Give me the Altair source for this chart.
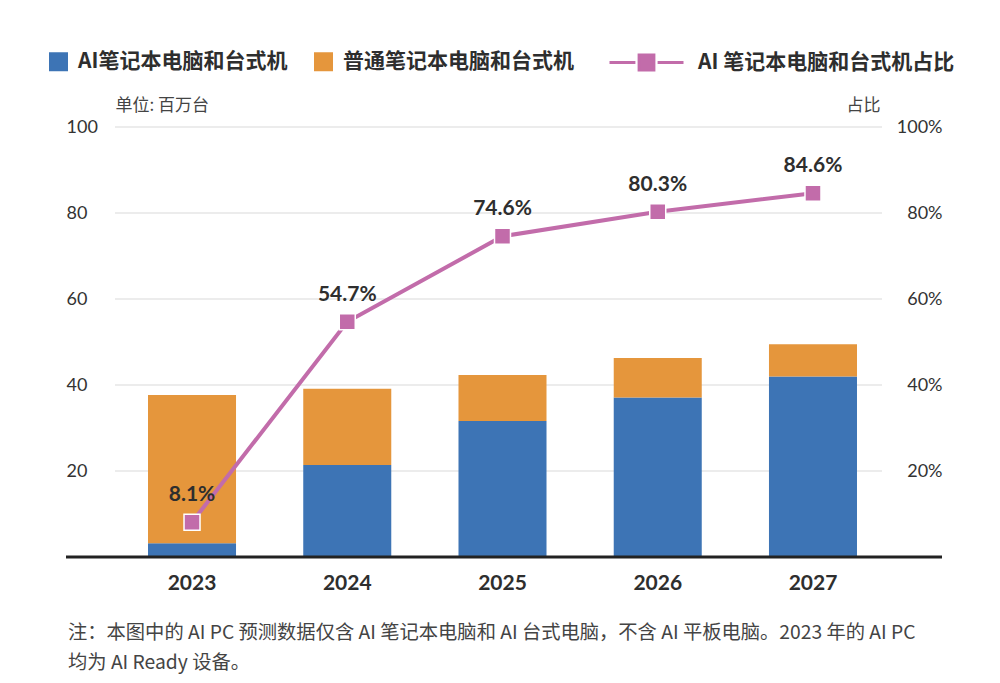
import altair as alt
import pandas as pd

# ---- data ----
years = ["2023", "2024", "2025", "2026", "2027"]
ai_units = [3.2, 21.4, 31.6, 37.1, 42.0]          # 百万台
regular_units = [34.5, 17.7, 10.7, 9.2, 7.5]       # 百万台
ai_share = [8.1, 54.7, 74.6, 80.3, 84.6]           # %
share_labels = ["8.1%", "54.7%", "74.6%", "80.3%", "84.6%"]
left_ticks = [20, 40, 60, 80, 100]
right_ticks = [20, 40, 60, 80, 100]

series_ai = "AI笔记本电脑和台式机"
series_reg = "普通笔记本电脑和台式机"
series_share = "AI 笔记本电脑和台式机占比"

note_lines = [
    "注：本图中的 AI PC 预测数据仅含 AI 笔记本电脑和 AI 台式电脑，不含 AI 平板电脑。2023 年的 AI PC",
    "均为 AI Ready 设备。",
]

BLUE = "#3D74B5"
ORANGE = "#E5963C"
PINK = "#C26CAA"
TEXT = "#2e2e2e"
NUM_FONT = "Lato"
CJK_FONT = "Noto Sans CJK SC"

bars_df = pd.DataFrame({
    "year": years * 2,
    "series": [series_ai] * len(years) + [series_reg] * len(years),
    "value": ai_units + regular_units,
    "order": [0] * len(years) + [1] * len(years),
})
share_df = pd.DataFrame({
    "year": years,
    "share": ai_share,
    "label": share_labels,
    "series": [series_share] * len(years),
})
grid_df = pd.DataFrame({"v": left_ticks})
base_df = pd.DataFrame({"v": [0]})

x_scale = alt.Scale(domain=years, paddingInner=0.433, paddingOuter=0.2126)


def ysc():
    return alt.Scale(domain=[0, 100])


grid = alt.Chart(grid_df).mark_rule(color="#d9d9d9", strokeWidth=1).encode(
    y=alt.Y("v:Q", scale=ysc(), axis=None),
    x=alt.value(0),
    x2=alt.value(767),
)

bars = alt.Chart(bars_df).mark_bar().encode(
    x=alt.X("year:N", scale=x_scale, axis=alt.Axis(
        title=None, labelAngle=0, labelFontSize=21, labelFontWeight="bold",
        labelFont=NUM_FONT, labelColor=TEXT, ticks=False, tickSize=0,
        domain=False, labelPadding=26, labelBaseline="middle")),
    y=alt.Y("value:Q", stack="zero", scale=ysc(), axis=alt.Axis(
        orient="left", values=left_ticks, grid=False, ticks=False, tickSize=0,
        domain=False, labelAlign="left", labelPadding=49, labelFontSize=18,
        labelFont=NUM_FONT, labelColor="#333333",
        title="单位: 百万台", titleAngle=0, titleX=0, titleY=-22,
        titleAlign="left", titleBaseline="middle", titleFontSize=17,
        titleFontWeight="normal", titleFont=CJK_FONT, titleColor="#444444")),
    color=alt.Color("series:N",
                    scale=alt.Scale(domain=[series_ai, series_reg], range=[BLUE, ORANGE]),
                    legend=alt.Legend(
                        title=None, orient="none", legendX=-67, legendY=-76,
                        direction="horizontal", symbolType="square", symbolSize=361,
                        symbolStrokeWidth=0, labelFontSize=21, labelFontWeight="bold",
                        labelFont=CJK_FONT, labelColor=TEXT, labelOffset=9,
                        columnPadding=25, labelLimit=500, padding=0)),
    order=alt.Order("order:Q", sort="ascending"),
)

baseline = alt.Chart(base_df).mark_rule(color="#222222", strokeWidth=3).encode(
    y=alt.Y("v:Q", scale=ysc(), axis=None),
    x=alt.value(-49),
    x2=alt.value(827),
)

line = alt.Chart(share_df).mark_line(strokeWidth=4).encode(
    x=alt.X("year:N", scale=x_scale),
    y=alt.Y("share:Q", scale=ysc(), axis=alt.Axis(
        orient="right", values=right_ticks, labelExpr="datum.value + '%'",
        grid=False, ticks=False, tickSize=0, domain=False,
        labelAlign="right", labelPadding=52, labelFontSize=18, labelFont=NUM_FONT,
        labelColor="#333333",
        title="占比", titleAngle=0, titleX=-10, titleY=-22, titleAlign="right",
        titleBaseline="middle", titleFontSize=17, titleFontWeight="normal",
        titleFont=CJK_FONT, titleColor="#444444")),
    stroke=alt.Stroke("series:N",
                      scale=alt.Scale(domain=[series_share], range=[PINK]),
                      legend=alt.Legend(
                          title=None, orient="none", legendX=493, legendY=-103,
                          symbolType="M-1,0H-0.3M0.3,0H1M-0.2,-0.2H0.2V0.2H-0.2Z",
                          symbolSize=5476, symbolStrokeWidth=3, symbolStrokeColor=PINK,
                          symbolFillColor=PINK,
                          labelFontSize=21, labelFontWeight="bold", labelFont=CJK_FONT,
                          labelColor=TEXT, labelOffset=13, labelLimit=500, padding=0)),
)

points = alt.Chart(share_df).mark_square(size=256, color=PINK, stroke="white",
                                         strokeWidth=1.5, opacity=1).encode(
    x=alt.X("year:N", scale=x_scale),
    y=alt.Y("share:Q", scale=ysc(), axis=None),
)

labels = alt.Chart(share_df).mark_text(dy=-27, fontSize=21, fontWeight="bold",
                                       font=NUM_FONT, color=TEXT).encode(
    x=alt.X("year:N", scale=x_scale),
    y=alt.Y("share:Q", scale=ysc(), axis=None),
    text="label:N",
)

chart = alt.layer(grid, bars, baseline, line, points, labels).resolve_scale(
    y="independent"
).resolve_legend(
    color="independent", stroke="independent"
).properties(
    width=775,
    height=430,
    autosize=alt.AutoSizeParams(type="none"),
    padding={"left": 107, "top": 119, "right": 100, "bottom": 120},
    title=alt.TitleParams(
        text=note_lines, orient="bottom", anchor="start", frame="group",
        dx=-47, offset=31, baseline="top", fontSize=19.3, fontWeight="normal",
        font=CJK_FONT, color="#444444", lineHeight=30),
).configure(background="white").configure_view(stroke=None)

chart.save("out.html", embed_options={"renderer": "svg", "actions": False})
